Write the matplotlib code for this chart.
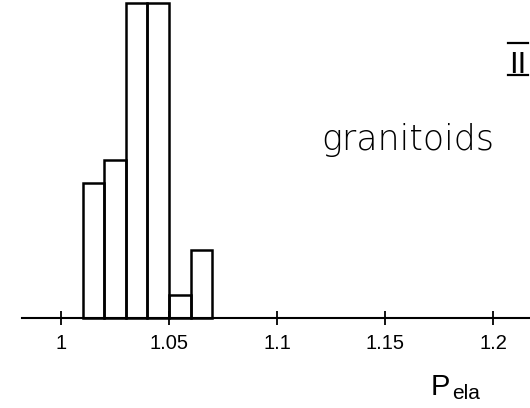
import matplotlib
matplotlib.use("Agg")
import matplotlib.pyplot as plt

# ==================================================================================================================
# Data (granitoids, P_ela)
# ==================================================================================================================

bin_edges = [1.01, 1.02, 1.03, 1.04, 1.05, 1.06, 1.07]
counts = [6, 7, 14, 14, 1, 3]

tick_values = [1, 1.05, 1.1, 1.15, 1.2]
tick_labels = ["1", "1.05", "1.1", "1.15", "1.2"]

narrow = ["Liberation Sans Narrow", "Liberation Sans", "DejaVu Sans"]

# ==================================================================================================================
# Figure
# ==================================================================================================================

fig = plt.figure(figsize=(5.30, 4.08), dpi=100)
ax = fig.add_axes([0, 0, 1, 1])

widths = [b - a for a, b in zip(bin_edges[:-1], bin_edges[1:])]
ax.bar(bin_edges[:-1], counts, width=widths, align="edge",
       fill=False, edgecolor="black", linewidth=1.8)

ax.set_xlim(0.97176, 1.21713)
ax.set_ylim(-4, 14.133)

# only a bottom axis line at zero, with ticks crossing it
for s in ["left", "right", "top"]:
    ax.spines[s].set_visible(False)
ax.spines["bottom"].set_position(("data", 0))
ax.spines["bottom"].set_bounds(0.9818, 1.21713)
ax.spines["bottom"].set_linewidth(1.5)
ax.set_yticks([])
ax.set_xticks(tick_values)
ax.set_xticklabels(tick_labels, family=narrow, fontsize=14.5)
ax.tick_params(axis="x", direction="inout", length=9.5, width=1.3, pad=7)
ax.patch.set_visible(False)

# annotations (positions in axes fraction, axes fill the figure)
ax.text(321 / 530, 1 - 150 / 408, "granitoids", transform=ax.transAxes,
        fontsize=25, ha="left", va="baseline", family="DejaVu Sans",
        fontweight="light")

ax.text(431 / 530, 1 - 395 / 408, "P", transform=ax.transAxes,
        fontsize=21, ha="left", va="baseline", family=narrow)
ax.text(452 / 530, 1 - 399 / 408, "ela", transform=ax.transAxes,
        fontsize=15, ha="left", va="baseline", family=narrow)

ax.text(518 / 530, 1 - 73 / 408, "II", transform=ax.transAxes,
        fontsize=21, ha="center", va="baseline", family="DejaVu Sans")
ax.plot([508 / 530, 528 / 530], [1 - 43 / 408, 1 - 43 / 408], color="black",
        lw=1.6, transform=ax.transAxes, clip_on=False)
ax.plot([508 / 530, 528 / 530], [1 - 75 / 408, 1 - 75 / 408], color="black",
        lw=1.6, transform=ax.transAxes, clip_on=False)

fig.savefig("out.png", dpi=100)
